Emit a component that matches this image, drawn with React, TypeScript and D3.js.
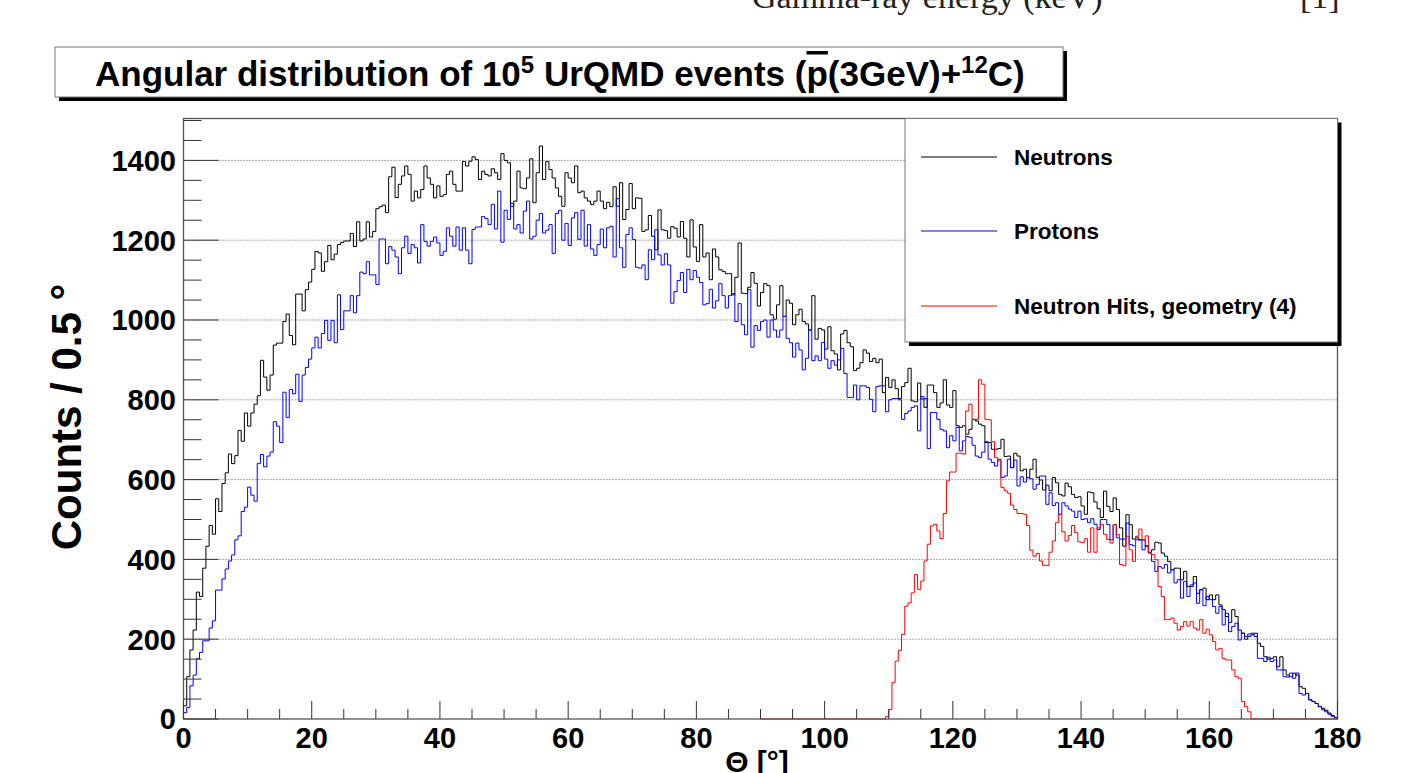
import React from "react";
import * as d3 from "d3";

// ---- data (counts per 0.5 degree bin) ----
const BIN_WIDTH = 0.5;
const NEUTRONS: number[] = [
  33,106,173,223,318,307,378,433,485,463,552,520,590,617,664,640,660,
  723,696,767,734,767,789,810,899,857,824,862,937,942,942,996,1015,961,938,1065,1065,1023,1076,1095,1127,1172,1168,1122,1146,1187,1151,1165,1189,1194,1198,1198,1217,1184,1246,1198,1203,1246,1208,1222,1279,1284,1288,1269,1359,1383,1307,
  1340,1361,1386,1365,1298,1323,1306,1327,1386,1356,1340,1306,1336,1310,1314,1365,1373,1340,1323,1323,1397,1386,1398,1409,1402,1352,1373,1365,1361,1379,1369,1352,1417,1400,1394,1285,1298,1373,1331,1329,1356,1404,1294,1369,1436,1352,1397,1377,1356,1331,1310,1285,1369,1356,1344,1386,1319,1323,1306,1298,1289,1298,1323,1298,1279,1295,1284,1334,1285,1344,1252,1277,1342,1279,1306,
  1305,1222,1226,1262,1210,1176,1276,1226,1224,1205,1234,1230,1208,1247,1205,1158,1251,1183,1147,1239,1158,1168,1101,1178,1158,1126,1122,1116,1116,1063,1107,1193,1067,1066,1082,1119,1092,1035,1069,1091,1086,1013,1002,1038,1086,1009,1050,1042,988,1013,1027,996,990,975,1061,952,979,975,927,983,923,915,875,965,974,943,933,873,879,893,925,917,896,904,893,
  902,818,856,831,850,828,803,833,843,879,797,795,842,802,781,837,837,818,781,792,850,787,781,823,735,731,735,714,726,751,747,739,735,693,693,676,676,678,701,658,659,630,666,659,622,626,605,626,651,605,599,574,586,572,605,592,563,559,591,582,563,555,557,534,513,569,567,544,527,505,
  571,533,520,554,525,479,433,512,487,451,454,449,449,433,418,424,443,441,416,408,395,374,378,378,349,370,332,332,357,315,324,328,299,311,299,311,286,274,257,242,274,257,223,215,200,207,211,215,190,182,156,150,152,156,131,156,123,110,106,115,110,81,77,64,48,44,39,31,27,22,15,9,4,
];
const PROTONS: number[] = [
  16,29,83,110,151,167,196,196,228,246,323,323,351,376,396,411,449,459,520,531,581,561,546,640,663,632,659,669,
  745,734,693,819,756,826,815,864,796,862,881,902,930,957,930,966,999,949,999,943,1063,976,1023,1023,1061,1018,1061,1120,1116,1146,1113,1113,1089,1203,1203,1141,1184,1175,1158,
  1116,1181,1210,1167,1189,1181,1143,1239,1197,1185,1197,1208,1193,1162,1172,1231,1210,1185,1233,1175,1231,1175,1141,1227,1233,1233,1259,1254,1239,1290,1228,1323,1195,1275,1252,1292,1228,1239,1218,1273,1298,1203,1210,1250,1267,1218,1225,1239,1167,1267,1275,1200,1242,1187,1256,1269,1202,1275,1185,1239,1178,1162,1189,1228,1181,1231,1235,1158,1304,1181,1132,1214,1231,1202,1132,
  1130,1138,1101,1176,1151,1226,1163,1138,1166,1138,1042,1071,1099,1119,1069,1127,1101,1124,1107,1094,1038,1041,1077,1030,1048,1091,1061,1030,1061,1066,996,1041,988,963,1076,932,986,974,996,1000,957,1000,975,957,975,1009,954,943,907,942,925,875,904,975,898,910,898,944,902,879,898,887,900,929,866,806,806,837,800,835,835,831,801,770,833,
  835,835,770,800,803,803,800,751,766,772,781,785,722,808,803,678,768,768,751,726,722,680,710,697,731,672,697,708,706,686,659,655,669,695,651,643,634,651,605,609,651,630,649,584,607,594,605,602,576,588,609,609,538,567,535,542,513,542,534,526,521,505,521,500,502,492,502,488,475,
  500,500,487,449,487,454,451,451,491,437,434,449,449,424,434,416,395,370,382,378,387,366,374,341,349,303,345,307,336,341,290,324,284,307,299,282,265,282,236,265,219,232,240,198,215,207,213,215,207,152,152,144,155,144,148,123,123,106,105,115,102,115,64,60,64,48,44,39,31,23,18,12,7,3,
];
const HITS_START = 90; // degrees, first bin of the "Neutron Hits" histogram
const NEUTRON_HITS: number[] = [
  0,0,0,0,0,0,0,0,0,0,0,0,0,0,0,0,0,0,0,0,0,0,0,0,0,0,0,0,0,0,0,0,0,0,0,0,0,0,0,6,
  24,91,145,172,212,283,291,316,362,325,346,396,438,484,488,471,452,515,597,619,619,666,666,664,772,789,751,751,850,839,751,750,695,655,647,580,572,566,536,525,515,515,513,485,423,408,415,396,385,385,418,446,492,513,469,446,460,485,467,444,442,452,418,479,418,479,488,463,450,
  441,487,462,387,384,458,424,395,458,476,449,459,416,412,399,332,307,249,249,253,240,223,232,244,233,244,228,223,249,215,225,211,194,173,177,152,148,148,123,106,102,44,31,18,
  0,0,0,0,0,0,0,0,0,0,0,0,0,0,0,0,0,0,0,0,0,0,0,0,0,0,0,
];
const X_MAJOR = [0, 20, 40, 60, 80, 100, 120, 140, 160, 180];
const Y_MAJOR = [0, 200, 400, 600, 800, 1000, 1200, 1400];
const LEGEND = [
  { label: "Neutrons", color: "#000000" },
  { label: "Protons", color: "#0000ff" },
  { label: "Neutron Hits, geometry (4)", color: "#ff0000" },
];

const FONT = "'Liberation Sans', Arial, Helvetica, sans-serif";
const SERIF = "'Liberation Serif', 'Times New Roman', serif";

export default function App() {
  const W = 1412, H = 773;
  const x = d3.scaleLinear().domain([0, 180]).range([183.5, 1337.5]);
  const y = d3.scaleLinear().domain([0, 1505]).range([719, 118.5]);
  const line = d3.line<[number, number]>().x((d) => x(d[0])).y((d) => y(d[1]));

  const histPath = (vals: number[], start: number) => {
    const pts: [number, number][] = [[start, 0]];
    vals.forEach((v, i) => {
      pts.push([start + i * BIN_WIDTH, v]);
      pts.push([start + (i + 1) * BIN_WIDTH, v]);
    });
    pts.push([start + vals.length * BIN_WIDTH, 0]);
    return line(pts) || "";
  };

  const xMinor = d3.range(0, 180.01, 5);
  const yMinor = d3.range(0, 1505, 50);
  const x0 = x(0), x1 = x(180), yb = y(0), yt = y(1505);

  const lg = { l: 905, t: 118.5, r: 1337.5, b: 342 };
  const lgRows = [157, 231, 306];

  return (
    <div style={{ position: "fixed", left: 0, top: 0, width: W, height: H, background: "#fff" }}>
      <svg width={W} height={H} viewBox={`0 0 ${W} ${H}`} style={{ display: "block" }}>
        <rect x={0} y={0} width={W} height={H} fill="#fff" />
        {/* remnants of the previous figure on the page (cut by the page edge) */}
        <text x={752} y={8} fontFamily={SERIF} fontSize={34} fill="#222">
          Gamma-ray energy (keV)
        </text>
        <text x={1300} y={8} fontFamily={SERIF} fontSize={34} fill="#222">
          [1]
        </text>

        {/* grid */}
        {Y_MAJOR.filter((v) => v > 0).map((v) => (
          <line key={"g" + v} x1={x0} x2={x1} y1={y(v)} y2={y(v)} stroke="#555" strokeWidth={1} strokeDasharray="1 2" />
        ))}

        {/* histograms */}
        <path d={histPath(NEUTRONS, 0)} fill="none" stroke="#000" strokeWidth={1} />
        <path d={histPath(PROTONS, 0)} fill="none" stroke="#0000ff" strokeWidth={1} />
        <path d={histPath(NEUTRON_HITS, HITS_START)} fill="none" stroke="#ff0000" strokeWidth={1} />

        {/* frame */}
        <rect x={x0} y={yt} width={x1 - x0} height={yb - yt} fill="none" stroke="#555" strokeWidth={1.3} />

        {/* y ticks */}
        {yMinor.map((v) => {
          const major = v % 200 === 0;
          return <line key={"yt" + v} x1={x0} x2={x0 + (major ? 35 : 18)} y1={y(v)} y2={y(v)} stroke="#333" strokeWidth={1} />;
        })}
        {/* x ticks */}
        {xMinor.map((v) => {
          const major = v % 20 === 0;
          return <line key={"xt" + v} x1={x(v)} x2={x(v)} y1={yb} y2={yb - (major ? 18 : 10)} stroke="#333" strokeWidth={1} />;
        })}

        {/* y labels */}
        {Y_MAJOR.map((v) => (
          <text key={"yl" + v} x={176} y={y(v)} dy="0.36em" textAnchor="end" fontFamily={FONT} fontWeight="bold" fontSize={29} fill="#000">
            {v}
          </text>
        ))}
        {/* x labels */}
        {X_MAJOR.map((v) => (
          <text key={"xl" + v} x={x(v)} y={748} textAnchor="middle" fontFamily={FONT} fontWeight="bold" fontSize={29} fill="#000">
            {v}
          </text>
        ))}

        {/* axis titles */}
        <text x={757} y={772} textAnchor="middle" fontFamily={FONT} fontWeight="bold" fontSize={30} fill="#000">
          Θ [°]
        </text>
        <text transform="translate(81,417) rotate(-90)" textAnchor="middle" fontFamily={FONT} fontWeight="bold" fontSize={42} fill="#000">
          Counts / 0.5 °
        </text>

        {/* legend */}
        <rect x={lg.l + 4} y={lg.t + 4} width={lg.r - lg.l} height={lg.b - lg.t} fill="#000" />
        <rect x={lg.l} y={lg.t} width={lg.r - lg.l} height={lg.b - lg.t} fill="#fff" stroke="#777" strokeWidth={1} />
        {LEGEND.map((e, i) => (
          <g key={e.label}>
            <line x1={921} x2={997} y1={lgRows[i]} y2={lgRows[i]} stroke={e.color} strokeWidth={1} />
            <text x={1014} y={lgRows[i]} dy="0.36em" fontFamily={FONT} fontWeight="bold" fontSize={22.5} fill="#000">
              {e.label}
            </text>
          </g>
        ))}

        {/* title box */}
        <rect x={59} y={51} width={1008} height={50} fill="#000" />
        <rect x={55} y={47} width={1008} height={50} fill="#fff" stroke="#777" strokeWidth={1} />
        <text x={95} y={86} fontFamily={FONT} fontWeight="bold" fontSize={35} fill="#000">
          Angular distribution of 10
          <tspan fontSize={24} dy={-13}>5</tspan>
          <tspan dy={13}> UrQMD events (</tspan>
          <tspan style={{ textDecoration: "overline" }}>p</tspan>
          <tspan>(3GeV)+</tspan>
          <tspan fontSize={24} dy={-13}>12</tspan>
          <tspan dy={13}>C)</tspan>
        </text>
      </svg>
    </div>
  );
}
